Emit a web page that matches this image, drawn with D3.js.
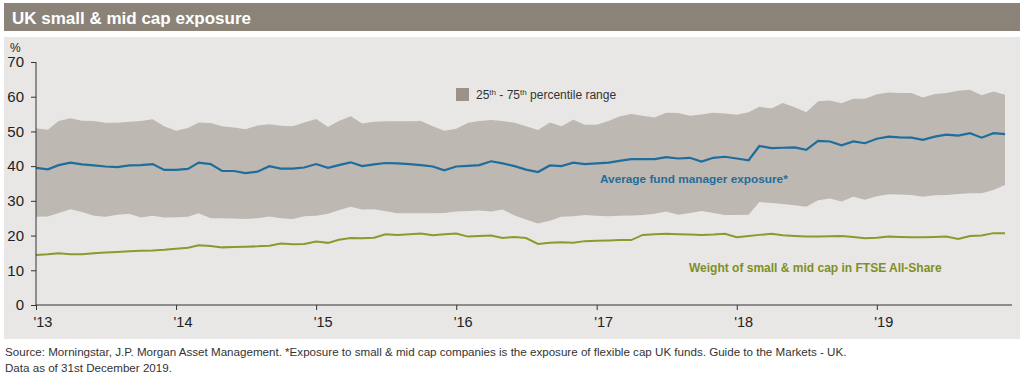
<!DOCTYPE html>
<html><head><meta charset="utf-8">
<script src="https://cdn.jsdelivr.net/npm/d3@7"></script>
<style>
html,body{margin:0;padding:0;background:#fff;}
svg{display:block;font-family:Arial,"Liberation Sans",sans-serif;}
</style></head>
<body><svg id="c" width="1024" height="378"></svg>
<script>
const months = d3.timeMonth.range(new Date(2013,0,1), new Date(2020,0,1)); // Jan 2013 - Dec 2019
const yearTicks = [2013,2014,2015,2016,2017,2018,2019];
const yTicks = [0,10,20,30,40,50,60,70];

const avgExposure = [39.5,39.1,40.3,41.0,40.5,40.2,39.9,39.7,40.2,40.3,40.6,38.9,
 38.9,39.2,41.0,40.6,38.6,38.6,38.0,38.4,40.0,39.3,39.3,39.6,
 40.6,39.5,40.3,41.1,40.0,40.5,40.9,40.8,40.6,40.3,39.9,38.8,
 39.9,40.1,40.3,41.4,40.8,40.0,39.0,38.3,40.2,40.0,41.0,40.6,
 40.8,41.0,41.5,42.0,42.0,42.0,42.6,42.2,42.4,41.3,42.4,42.7,
 42.2,41.7,45.8,45.2,45.3,45.4,44.7,47.3,47.1,46.0,47.1,46.6,
 47.9,48.5,48.3,48.2,47.6,48.5,49.1,48.8,49.5,48.2,49.5,49.2];

const ftseWeight = [14.4,14.6,14.9,14.6,14.6,14.9,15.1,15.3,15.5,15.6,15.7,15.9,
 16.2,16.5,17.2,17.0,16.6,16.7,16.8,16.9,17.1,17.7,17.5,17.6,
 18.3,17.9,18.8,19.3,19.2,19.4,20.4,20.2,20.4,20.6,20.1,20.4,
 20.6,19.7,19.9,20.0,19.3,19.6,19.3,17.6,17.9,18.1,17.9,18.4,
 18.5,18.6,18.7,18.7,20.2,20.4,20.5,20.4,20.3,20.2,20.3,20.5,
 19.5,19.9,20.2,20.5,20.1,19.9,19.7,19.7,19.8,19.9,19.6,19.2,
 19.4,19.7,19.6,19.5,19.5,19.6,19.7,19.0,19.9,20.0,20.7,20.7];

const pct75 = [50.9,50.5,53.0,53.8,53.1,53.0,52.5,52.5,52.8,53.0,53.5,51.5,
 50.2,51.0,52.6,52.4,51.5,51.1,50.6,51.7,52.1,51.6,51.5,52.6,
 53.6,51.3,53.0,54.4,52.3,52.8,52.9,52.9,52.9,53.0,51.5,50.2,
 50.8,52.5,53.0,53.3,53.0,52.5,51.5,50.4,52.6,51.5,53.4,51.9,
 51.9,53.0,54.3,55.0,54.5,54.0,55.4,55.3,54.5,54.9,55.4,55.2,
 54.8,55.5,57.1,56.6,58.2,57.0,55.5,58.7,58.9,58.1,59.4,59.4,
 60.7,61.2,61.1,61.1,59.8,60.8,61.1,61.7,62.0,60.4,61.5,60.6];

const pct25 = [25.4,25.5,26.5,27.6,26.8,25.7,25.4,26.0,26.3,25.2,25.7,25.2,
 25.3,25.4,26.4,25.0,25.0,24.9,24.8,25.0,25.5,25.0,24.8,25.6,
 25.7,26.3,27.3,28.3,27.5,27.6,27.0,26.4,26.4,26.4,26.4,26.5,
 26.9,27.1,27.2,26.9,27.5,25.8,24.6,23.5,24.3,25.4,25.6,25.9,
 25.7,25.6,25.7,25.8,25.9,26.3,26.9,26.0,26.5,27.1,26.5,25.9,
 25.9,26.0,29.7,29.4,29.1,28.7,28.3,30.2,30.7,29.8,31.2,30.3,
 31.3,31.9,31.8,31.7,31.2,31.6,31.7,32.0,32.2,32.2,33.1,34.6];

const svg = d3.select("#c");

// title bar
svg.append("rect").attr("x",4).attr("y",3).attr("width",1016).attr("height",28).attr("fill","#8c8378");
svg.append("text").attr("x",12).attr("y",23.5).attr("fill","#fff")
  .attr("font-size",17).attr("font-weight","bold").text("UK small & mid cap exposure");

// panel
svg.append("rect").attr("x",4).attr("y",37).attr("width",1016).attr("height",302).attr("fill","#e9e7e5");

const x = d3.scaleTime().domain([months[0], months[months.length-1]]).range([36, 1005]);
const y = d3.scaleLinear().domain([0,70]).range([305, 62]);

const rows = months.map((d,i)=>({d, avg:avgExposure[i], ftse:ftseWeight[i], hi:pct75[i], lo:pct25[i]}));

// band
svg.append("path").datum(rows)
  .attr("d", d3.area().x(r=>x(r.d)).y0(r=>y(r.lo)).y1(r=>y(r.hi)))
  .attr("fill","#bdb8b2");

// lines
svg.append("path").datum(rows)
  .attr("d", d3.line().x(r=>x(r.d)).y(r=>y(r.ftse)))
  .attr("fill","none").attr("stroke","#8b9a2e").attr("stroke-width",2);
svg.append("path").datum(rows)
  .attr("d", d3.line().x(r=>x(r.d)).y(r=>y(r.avg)))
  .attr("fill","none").attr("stroke","#1f6d9c").attr("stroke-width",2.2);

// y axis
const ya = svg.append("g").attr("transform","translate(36,0)")
  .call(d3.axisLeft(y).tickValues(yTicks).tickSize(5).tickPadding(7).tickFormat(d3.format("d")));
ya.select(".domain").attr("stroke","#333").attr("d","M0,62V305");
ya.selectAll(".tick line").attr("stroke","#333");
ya.selectAll("text").attr("font-size",15).attr("fill","#222").attr("font-family","Arial,'Liberation Sans',sans-serif");

svg.append("text").attr("x",10).attr("y",52).attr("font-size",12).attr("fill","#222").text("%");

// x axis
const xa = svg.append("g").attr("transform","translate(0,305)")
  .call(d3.axisBottom(x).tickValues(yearTicks.map(yv=>new Date(yv,0,1))).tickSize(5).tickFormat(d=>"'"+d3.timeFormat("%y")(d)));
xa.select(".domain").attr("stroke","#333").attr("d","M36,0H1012");
xa.selectAll(".tick line").attr("stroke","#333");
xa.selectAll("text").attr("font-size",14.5).attr("fill","#222").attr("text-anchor","start")
  .attr("x",-3).attr("y",12).attr("font-family","Arial,'Liberation Sans',sans-serif");

// legend
svg.append("rect").attr("x",456).attr("y",88).attr("width",13).attr("height",13).attr("fill","#9b938a");
const lt = svg.append("text").attr("x",476).attr("y",98.5).attr("font-size",12).attr("fill","#333");
lt.append("tspan").text("25");
lt.append("tspan").attr("font-size",8).attr("dy",-4).text("th");
lt.append("tspan").attr("dy",4).text(" - 75");
lt.append("tspan").attr("font-size",8).attr("dy",-4).text("th");
lt.append("tspan").attr("dy",4).text(" percentile range");

// series labels
svg.append("text").attr("x",600).attr("y",183).attr("font-size",11.8).attr("font-weight","bold")
  .attr("fill","#1f6d9c").text("Average fund manager exposure*");
svg.append("text").attr("x",689).attr("y",272).attr("font-size",12).attr("font-weight","bold")
  .attr("fill","#7f8f27").text("Weight of small & mid cap in FTSE All-Share");

// footnotes
svg.append("text").attr("x",5).attr("y",356).attr("font-size",11.6).attr("fill","#333")
  .text("Source: Morningstar, J.P. Morgan Asset Management. *Exposure to small & mid cap companies is the exposure of flexible cap UK funds. Guide to the Markets - UK.");
svg.append("text").attr("x",5).attr("y",371.5).attr("font-size",11.6).attr("fill","#333")
  .text("Data as of 31st December 2019.");
</script></body></html>
